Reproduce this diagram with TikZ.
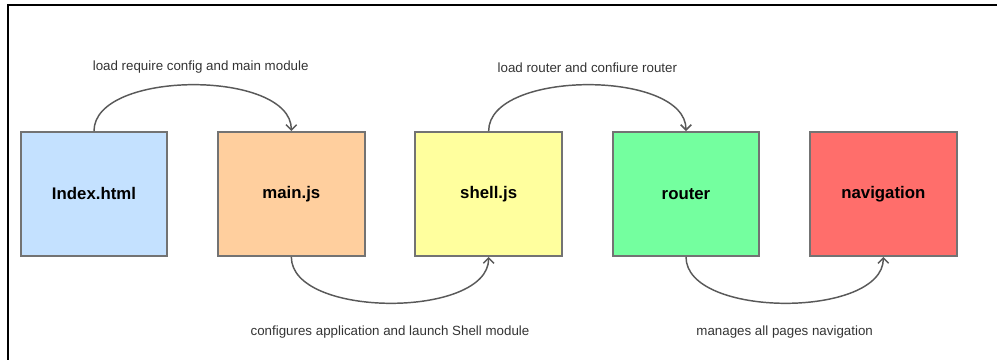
\documentclass[tikz,border=0pt]{standalone}
\usepackage{fontspec}
\setmainfont{Liberation Sans}
\usetikzlibrary{arrows.meta,positioning}
\definecolor{idxblue}{HTML}{C4E1FF}
\definecolor{mainpeach}{HTML}{FFCF9E}
\definecolor{shellyellow}{HTML}{FFFF9E}
\definecolor{routergreen}{HTML}{74FF9F}
\definecolor{navred}{HTML}{FF6E6B}

\begin{document}
\begin{tikzpicture}[x=0.75pt, y=0.75pt,
  font=\fontsize{10}{12}\selectfont, node distance=36.6pt,
  box/.style={draw=black!55, line width=1.4pt, minimum width=110pt, minimum height=93pt,
    inner sep=0pt, font=\fontsize{12.6}{14}\selectfont\bfseries},
  flow/.style={->, draw=black!65, line width=1.1pt},
  lab/.style={text=black!80},
  >={Straight Barb[length=4pt,width=8pt]}]
\useasboundingbox (0,0) rectangle (997,360);
% frame
\draw[line width=1.1pt] (8,0) -- (8,355) -- (997,355);
% modules
\node[box, fill=idxblue] (index) at (94,166) {Index.html};
\node[box, fill=mainpeach, right=of index] (main) {main.js};
\node[box, fill=shellyellow, right=of main] (shell) {shell.js};
\node[box, fill=routergreen, right=of shell] (router) {router};
\node[box, fill=navred, right=of router] (nav) {navigation};
% calls
\draw[flow] (index.north) to[out=90, in=90, looseness=0.8]
  node[lab, above=5pt, xshift=6pt]{load require config and main module} (main.north);
\draw[flow] (main.south) to[out=-90, in=-90, looseness=0.8]
  node[lab, below=13pt]{configures application and launch Shell module} (shell.south);
\draw[flow] (shell.north) to[out=90, in=90, looseness=0.8]
  node[lab, above=5pt]{load router and confiure router} (router.north);
\draw[flow] (router.south) to[out=-90, in=-90, looseness=0.8]
  node[lab, below=13pt]{manages all pages navigation} (nav.south);
\end{tikzpicture}
\end{document}
